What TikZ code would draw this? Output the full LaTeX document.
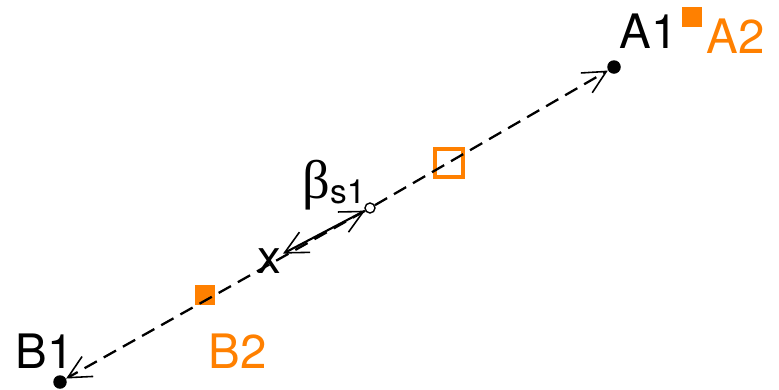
\documentclass[tikz,border=0pt]{standalone}
\usepackage{fontspec}
\setmainfont{TeX Gyre Heros}
\newfontfamily\greekfont{Liberation Serif}
\usetikzlibrary{arrows.meta}
\definecolor{markorange}{RGB}{255,128,0}

\begin{document}
\begin{tikzpicture}[
          dot/.style={circle, fill=black, inner sep=0pt, minimum size=0.27cm},
          hollow/.style={
              circle,
              draw=black,
              fill=white,
              line width=0.8pt,
              inner sep=0pt,
              minimum size=0.2cm
            },
          fullsq/.style={fill=markorange, inner sep=0pt, minimum size=0.4cm},
          opensq/.style={draw=markorange, line width=2.2pt, inner sep=0pt, minimum size=0.56cm},
          lbl/.style={font=\fontsize{27}{32}\selectfont, inner sep=0pt},
          barb/.tip={Straight Barb[length=13pt, width=13pt, line width=0.9pt]},
          dashline/.style={-barb, dash pattern=on 8pt off 4.5pt, line width=1.3pt},
          twoway/.style={barb-barb, line width=1.2pt}
        ]
        \useasboundingbox (0,0) rectangle (15.58,7.78);

        \node[dot] (A1) at (12.28,6.44) {};
        \node[dot] (B1) at (1.20,0.14) {};
        \node[hollow] (s1) at (7.40,3.62) {};
        \node[lbl, inner sep=1pt] (xmark) at (5.38,2.56) {x};

        \node[opensq] (sq) at (8.98,4.52) {};
        \node[fullsq] (A2) at (13.84,7.44) {};
        \node[fullsq] (B2) at (4.10,1.88) {};

        \node[lbl] (labA1) at (12.98,7.15) {A1};
        \node[lbl, text=markorange] (labA2) at (14.72,7.06) {A2};
        \node[lbl] (labB1) at (0.90,0.76) {B1};
        \node[lbl, text=markorange] (labB2) at (4.76,0.76) {B2};
        \node[lbl, anchor=base west] (beta) at (6.04,3.82)
          {{\greekfont\fontsize{31}{36}\selectfont β}\raisebox{-3pt}{\fontsize{19}{22}\selectfont s1}};

        \draw[dashline] (s1) -- (A1);
        \draw[dashline] (s1) -- (B1);
        \draw[twoway] (xmark) -- (s1);
      \end{tikzpicture}
\end{document}
